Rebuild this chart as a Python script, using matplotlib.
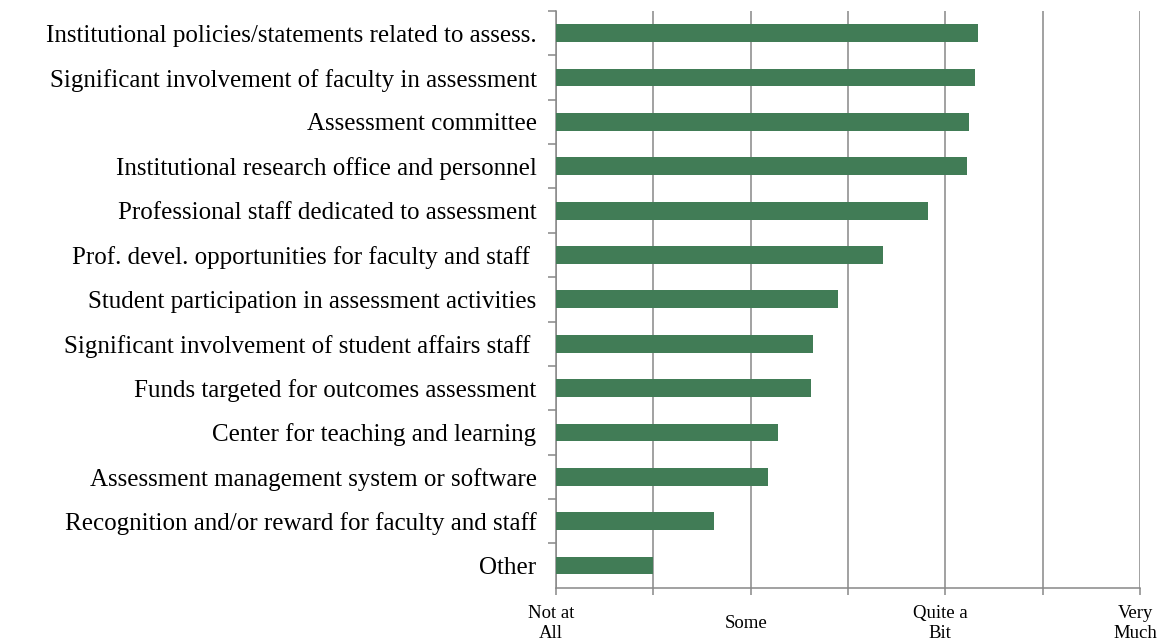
import matplotlib
matplotlib.use("Agg")
import matplotlib.pyplot as plt
import matplotlib.transforms as mtransforms

# Data
categories = [
    "Institutional policies/statements related to assess.",
    "Significant involvement of faculty in assessment",
    "Assessment committee",
    "Institutional research office and personnel",
    "Professional staff dedicated to assessment",
    "Prof. devel. opportunities for faculty and staff ",
    "Student participation in assessment activities",
    "Significant involvement of student affairs staff ",
    "Funds targeted for outcomes assessment",
    "Center for teaching and learning",
    "Assessment management system or software",
    "Recognition and/or reward for faculty and staff",
    "Other",
]
values = [3.17, 3.15, 3.12, 3.11, 2.91, 2.68, 2.45, 2.32, 2.31, 2.14, 2.09, 1.81, 1.50]
tick_values = [1, 2, 3, 4]
tick_labels = ["Not at\nAll", "Some", "Quite a\nBit", "Very\nMuch"]

bar_color = "#417C56"
grid_color = "#888888"

plt.rcParams['font.family'] = ['Liberation Serif', 'DejaVu Serif']

fig = plt.figure(figsize=(11.57, 6.41), dpi=100)
ax = fig.add_axes([0.4806, 0.0832, 0.5047, 0.8996])

ypos = list(range(len(categories)))
ax.barh(ypos, [v - 1 for v in values], left=1, height=0.40, color=bar_color, zorder=3)

ax.set_xlim(1, 4)
ax.set_ylim(len(categories) - 0.5, -0.5)

# grid every half step, labels only on whole steps
minor = [1.5, 2.5, 3.5]
ax.set_xticks(tick_values)
ax.set_xticks(minor, minor=True)
ax.set_xticklabels(tick_labels, fontsize=13.5, va='center', linespacing=1.25)
ax.tick_params(axis='x', which='both', length=5, width=1.1, color=grid_color, pad=21)
ax.grid(axis='x', which='both', color=grid_color, linewidth=1.1, zorder=0)

# labels sit a little left of their gridlines in the original
shift = mtransforms.ScaledTranslation(-5 / 100, 0, fig.dpi_scale_trans)
for lbl in ax.get_xticklabels():
    lbl.set_transform(lbl.get_transform() + shift)

# y tick marks sit between categories
ax.set_yticks([y + 0.5 for y in ypos[:-1]] + [-0.5], minor=True)
ax.set_yticks(ypos)
ax.set_yticklabels(categories, fontsize=18)
ax.tick_params(axis='y', which='major', length=0, pad=14)
ax.tick_params(axis='y', which='minor', length=6, width=1.1, color=grid_color)

for s in ['top', 'right']:
    ax.spines[s].set_visible(False)
for s in ['left', 'bottom']:
    ax.spines[s].set_color(grid_color)
    ax.spines[s].set_linewidth(1.1)

fig.savefig("out.png", dpi=100)
